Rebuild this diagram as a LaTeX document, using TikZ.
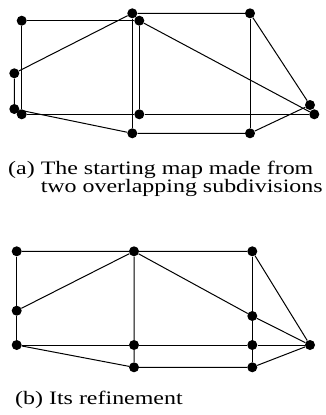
\documentclass[tikz,border=0pt]{standalone}
\usepackage{fontspec}
\usepackage{tikz}
\usetikzlibrary{positioning}
\newfontfamily\capfont[FakeStretch=1.26]{Liberation Serif}

\begin{document}
\begin{tikzpicture}[
  x=1pt, y=-1pt,
  dot/.style={circle, fill=black, inner sep=0pt, minimum size=10pt},
  edge/.style={line width=1pt},
  caption/.style={anchor=north west, inner sep=0pt, align=left,
                  font=\capfont\fontsize{19}{18}\selectfont}
]
\useasboundingbox (0,0) rectangle (326,415);

% (a) First subdivision
\node[dot] (a1) at (21.7,20.7) {};
\node[dot] (a2) at (139.3,20.7) {};
\node[dot] (a3) at (139.3,114.3) {};
\node[dot] (a4) at (21.7,114.3) {};
\node[dot] (a5) at (314.3,114.3) {};

% (a) Second subdivision
\node[dot] (b1) at (132.3,13.3) {};
\node[dot] (b2) at (250,13.3) {};
\node[dot] (b3) at (310,105) {};
\node[dot] (b4) at (250,133.3) {};
\node[dot] (b5) at (132.3,133.3) {};
\node[dot] (b6) at (14.3,109) {};
\node[dot] (b7) at (14.3,73.3) {};

\draw[edge] (a1) -- (a2) -- (a3) -- (a4) -- (a1);
\draw[edge] (a3) -- (a5);
\draw[edge] (a2) -- (a5);
\draw[edge] (b1) -- (b2) -- (b3) -- (b4) -- (b5) -- (b6) -- (b7) -- (b1);
\draw[edge] (b1) -- (b5);
\draw[edge] (b2) -- (b4);

\node[caption] (capa) at (8,161)
  {(a) The starting map made from\\\hphantom{(a) }two overlapping subdivisions};

% (b) Refinement
\node[dot] (r1) at (16.7,251.3) {};
\node[dot] (r2) at (134,251.3) {};
\node[dot] (r3) at (252.3,251.3) {};
\node[dot] (r4) at (16.7,310.7) {};
\node[dot] (r5) at (16.7,345) {};
\node[dot] (r6) at (134,345) {};
\node[dot] (r7) at (252.3,345) {};
\node[dot] (r8) at (310,345) {};
\node[dot] (r9) at (134,367.3) {};
\node[dot] (r10) at (252.3,367.3) {};
\node[dot] (r11) at (252.3,316) {};

\draw[edge] (r1) -- (r2) -- (r3) -- (r8);
\draw[edge] (r1) -- (r4) -- (r5);
\draw[edge] (r4) -- (r2) -- (r6);
\draw[edge] (r2) -- (r11) -- (r8);
\draw[edge] (r3) -- (r11) -- (r7);
\draw[edge] (r5) -- (r6) -- (r7) -- (r8);
\draw[edge] (r6) -- (r9) -- (r10) -- (r8);
\draw[edge] (r7) -- (r10);
\draw[edge] (r5) -- (r9);

\node[caption] (capb) at (15,391) {(b) Its refinement};
\end{tikzpicture}
\end{document}
